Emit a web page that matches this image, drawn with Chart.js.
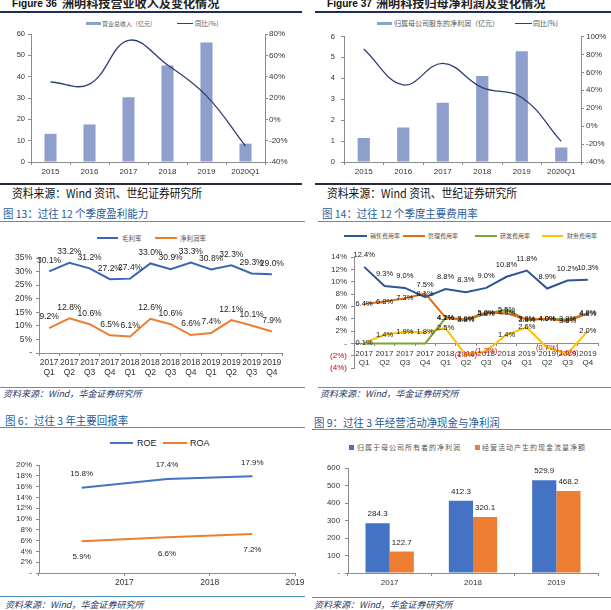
<!DOCTYPE html>
<html><head><meta charset="utf-8">
<script src="https://cdn.jsdelivr.net/npm/chart.js@4.4.1/dist/chart.umd.min.js"></script>
<style>
html,body{margin:0;padding:0;background:#fff;}
#page{position:relative;width:611px;height:610px;overflow:hidden;background:#fff;}
.t{position:absolute;white-space:nowrap;transform-origin:0 50%;line-height:1;}
.r{position:absolute;}
canvas{position:absolute;}
</style></head><body><div id="page"></div>
<script>
// ---------- DATA ----------
const yearsA = ['2015', '2016', '2017', '2018', '2019', '2020Q1'];
const revenue = [13.2, 17.6, 30.4, 45.2, 56.0, 8.6];
const revenueYoY = [35, 33, 74, 51, 22, -25];
const netProfit = [1.15, 1.65, 2.83, 4.11, 5.3, 0.69];
const netProfitYoY = [86, 46, 70, 43, 32, -17];

const quarters = [['2017','Q1'],['2017','Q2'],['2017','Q3'],['2017','Q4'],['2018','Q1'],['2018','Q2'],['2018','Q3'],['2018','Q4'],['2019','Q1'],['2019','Q2'],['2019','Q3'],['2019','Q4']];
const grossMargin = [30.1, 33.2, 31.2, 27.2, 27.4, 33.0, 30.9, 33.3, 30.8, 32.3, 29.3, 29.0];
const netMargin = [9.2, 12.8, 10.6, 6.5, 6.1, 12.6, 10.6, 6.6, 7.4, 12.1, 10.1, 7.9];

const sellingRate = [12.4, 9.3, 9.0, 7.5, 8.8, 8.3, 9.0, 10.8, 11.8, 8.9, 10.2, 10.3];
const adminRate = [6.4, 6.8, 7.3, 8.1, 4.2, 3.9, 5.0, 4.9, 3.9, 4.0, 3.6, 4.9];
const rdRate = [0, 0, 0, 0, 4.1, 3.8, 4.8, 5.5, 3.8, 4.0, 3.9, 4.8];
const finRate = [0.1, 1.4, 1.9, 1.8, 2.5, -1.9, -1.2, 1.4, 2.6, -0.7, -1.6, 2.0];

const years3 = ['2017', '2018', '2019'];
const roe = [15.8, 17.4, 17.9];
const roa = [5.9, 6.6, 7.2];
const parentNetProfit = [284.3, 412.3, 529.9];
const opCashFlow = [122.7, 320.1, 468.2];

// ---------- SETUP ----------
Chart.defaults.font.family = "'Liberation Sans', Arial, sans-serif";
Chart.defaults.font.size = 8;
Chart.defaults.color = '#333';
Chart.defaults.animation = false;
Chart.defaults.plugins.legend.display = false;
Chart.defaults.plugins.tooltip.enabled = false;

const page = document.getElementById('page');
function txt(s, x, yc, size, css) {
  const d = document.createElement('div');
  d.className = 't'; d.textContent = s;
  d.style.left = x + 'px'; d.style.top = (yc - size / 2) + 'px';
  d.style.fontSize = size + 'px';
  d.style.fontFamily = "'Noto Sans CJK SC','Liberation Sans',sans-serif";
  Object.assign(d.style, css || {});
  page.appendChild(d); return d;
}
function rect(x, y, w, h, c) {
  const d = document.createElement('div'); d.className = 'r';
  d.style.left = x + 'px'; d.style.top = y + 'px'; d.style.width = w + 'px'; d.style.height = h + 'px';
  d.style.background = c; page.appendChild(d); return d;
}
function canvasAt(l, t, w, h) {
  const c = document.createElement('canvas');
  c.width = w; c.height = h; c.style.left = l + 'px'; c.style.top = t + 'px';
  c.style.width = w + 'px'; c.style.height = h + 'px';
  page.appendChild(c); return c;
}
const labelPlugin = {
  id: 'vlabels',
  afterDatasetsDraw(chart) {
    const ctx = chart.ctx;
    chart.data.datasets.forEach((ds, i) => {
      if (!ds.vl) return;
      const meta = chart.getDatasetMeta(i);
      const o = ds.vl;
      meta.data.forEach((el, j) => {
        const v = ds.data[j];
        if (v == null || (o.skip && o.skip(v, j))) return;
        ctx.save();
        ctx.font = o.font || "8px 'Liberation Sans'";
        ctx.fillStyle = typeof o.color === 'function' ? o.color(v) : (o.color || '#222');
        ctx.textAlign = 'center'; ctx.textBaseline = 'middle';
        ctx.fillText(o.fmt ? o.fmt(v) : String(v), el.x + (o.dx || 0), el.y + (o.dy || 0));
        ctx.restore();
      });
    });
  }
};
const AX = '#8c8c8c';
function yAx(pos, min, max, step, width, fmt, fs, extraTicks) {
  return {
    type: 'linear', position: pos, min: min, max: max,
    ticks: Object.assign({ stepSize: step, callback: fmt, font: { size: fs }, color: '#333', padding: 3, autoSkip: false }, extraTicks || {}),
    grid: { drawOnChartArea: false, drawTicks: true, tickLength: 3, color: AX },
    border: { display: true, color: AX },
    afterFit: s => { s.width = width; }
  };
}
function xAx(fs, h, extraTicks) {
  return {
    type: 'category', offset: true,
    grid: { offset: true, drawOnChartArea: false, tickLength: 3, color: AX },
    border: { color: AX },
    ticks: Object.assign({ font: { size: fs, lineHeight: 1.15 }, color: '#333', padding: 2, maxRotation: 0, autoSkip: false }, extraTicks || {}),
    afterFit: s => { s.height = h; }
  };
}
const pct = v => v + '%';
const pct0 = v => v === 0 ? '-' : v + '%';
const pct1 = v => v.toFixed(1) + '%';

// ---------- STATIC TEXT / LINES ----------
const NAVY = '#1B2D5B';
// top headers
txt('Figure 36', 12, 3, 11, { fontFamily: "'Liberation Sans'", fontWeight: 'bold', transform: 'scaleX(0.92)', color: '#111' });
txt('洲明科技营业收入及变化情况', 62, 3, 11, { transform: 'scaleX(1.1)', color: '#222', fontWeight: 'bold' });
txt('Figure 37', 327, 3, 11, { fontFamily: "'Liberation Sans'", fontWeight: 'bold', transform: 'scaleX(0.92)', color: '#111' });
txt('洲明科技归母净利润及变化情况', 376, 3, 11, { transform: 'scaleX(1.1)', color: '#222', fontWeight: 'bold' });
rect(0, 11, 302, 2, NAVY);
rect(315, 11, 296, 2, NAVY);
rect(0, 183, 302, 1.5, '#2a2a3a');
rect(315, 183, 296, 1.5, '#2a2a3a');
txt('资料来源：Wind 资讯、世纪证券研究所', 12, 193, 12, { transform: 'scaleX(0.9)', color: '#111' });
txt('资料来源：Wind 资讯、世纪证券研究所', 327, 193, 12, { transform: 'scaleX(0.9)', color: '#111' });

// legends top
rect(86, 22, 15, 3, '#8E9FCB');
txt('营业总收入（亿元）', 102, 23.5, 6, { color: '#555' });
rect(177, 23, 16, 1.3, '#2E3F73');
txt('同比(%)', 195, 23.5, 6.5, { color: '#555' });
rect(377, 22, 15, 3, '#8E9FCB');
txt('归属母公司股东的净利润（亿元）', 394, 23.5, 7, { color: '#555' });
rect(515, 23, 17, 1.3, '#2E3F73');
txt('同比(%)', 533, 23.5, 7, { color: '#555' });

// middle headers
const TB = '#1F5C99', TL = '#4F94C4', SRC = '#1F3864';
txt('图 13：过往 12 个季度盈利能力', 3, 213, 11, { color: TB, transform: 'scaleX(0.95)' });
rect(0, 221, 305, 1, TL);
txt('图 14：过往 12 个季度主要费用率', 322, 213, 11, { color: TB, transform: 'scaleX(0.95)' });
rect(318, 221, 293, 1, TL);
rect(0, 387, 305, 1, TL);
rect(318, 387, 293, 1, TL);
txt('资料来源：Wind，华金证券研究所', 3, 393.5, 9, { color: SRC, fontStyle: 'italic' });
txt('资料来源：Wind，华金证券研究所', 320, 393.5, 9, { color: SRC, fontStyle: 'italic' });

// legend 13
rect(97, 237, 21, 2, '#3A66B5'); txt('毛利率', 122, 238, 6.5, { color: '#555' });
rect(155, 237, 22, 2, '#ED7D31'); txt('净利润率', 180, 238, 6.5, { color: '#555' });
// legend 14
rect(344, 235, 23, 2, '#2F5597'); txt('销售费用率', 370, 236, 6, { color: '#555' });
rect(403, 235, 22, 2, '#E46C0A'); txt('管理费用率', 428, 236, 6, { color: '#555' });
rect(475, 235, 22, 2, '#7FA33A'); txt('研发费用率', 500, 236, 6, { color: '#555' });
rect(542, 235, 21, 2, '#FFC000'); txt('财务费用率', 567, 236, 6, { color: '#555' });

// bottom headers
txt('图 6：过往 3 年主要回报率', 5, 420, 11, { color: TB, transform: 'scaleX(0.95)' });
rect(0, 427, 305, 1, TL);
txt('图 9：过往 3 年经营活动净现金与净利润', 314, 422, 11, { color: TB, transform: 'scaleX(0.95)' });
rect(312, 429, 299, 1, TL);
rect(0, 596, 305, 1, TL);
rect(312, 597, 299, 1, TL);
txt('资料来源：Wind，华金证券研究所', 5, 604, 9, { color: SRC, fontStyle: 'italic' });
txt('资料来源：Wind，华金证券研究所', 314, 604, 9, { color: SRC, fontStyle: 'italic' });

// legend 6
rect(110, 442, 23, 2, '#4472C4'); txt('ROE', 137, 443, 9, { fontFamily: "'Liberation Sans'", color: '#222' });
rect(163, 442, 24, 2, '#ED7D31'); txt('ROA', 190, 443, 9, { fontFamily: "'Liberation Sans'", color: '#222' });
// legend 9
rect(349, 445, 5, 5, '#4472C4'); txt('归属于母公司所有者的净利润', 357, 447.5, 7, { color: '#555', letterSpacing: '1px' });
rect(475, 445, 5, 5, '#ED7D31'); txt('经营活动产生的现金流量净额', 482, 447.5, 7, { color: '#555', letterSpacing: '1px' });

// ---------- CHART A: Figure 36 ----------
new Chart(canvasAt(0, 26, 300, 154), {
  data: { labels: yearsA, datasets: [
    { type: 'line', data: revenueYoY, yAxisID: 'y1', borderColor: '#2E3F73', borderWidth: 1.3, pointRadius: 0, tension: 0.4, order: 0 },
    { type: 'bar', data: revenue, yAxisID: 'y', backgroundColor: '#8E9FCB', barPercentage: 0.31, categoryPercentage: 1, order: 1 }
  ]},
  options: { responsive: false, layout: { padding: { top: 8, left: 0, right: 0, bottom: 0 } },
    scales: { x: xAx(8, 18), y: yAx('left', 0, 60, 10, 31, v => v, 7.5), y1: yAx('right', -40, 80, 20, 35, pct, 8, { padding: 1 }) } }
});
// ---------- CHART B: Figure 37 ----------
new Chart(canvasAt(305, 26, 306, 154), {
  data: { labels: yearsA, datasets: [
    { type: 'line', data: netProfitYoY, yAxisID: 'y1', borderColor: '#2E3F73', borderWidth: 1.3, pointRadius: 0, tension: 0.4, order: 0 },
    { type: 'bar', data: netProfit, yAxisID: 'y', backgroundColor: '#8E9FCB', barPercentage: 0.31, categoryPercentage: 1, order: 1 }
  ]},
  options: { responsive: false, layout: { padding: { top: 8, left: 0, right: 0, bottom: 0 } },
    scales: { x: xAx(8, 18), y: yAx('left', 0, 6, 1, 39, v => v, 7.5, { padding: 6 }), y1: yAx('right', -40, 100, 20, 30, pct, 8, { padding: 2 }) } }
});
// ---------- CHART 13 ----------
new Chart(canvasAt(0, 245, 305, 135), {
  type: 'line',
  data: { labels: quarters, datasets: [
    { data: grossMargin, borderColor: '#3A66B5', borderWidth: 2, pointRadius: 0, tension: 0,
      vl: { dy: -11, fmt: pct1, font: "8.5px 'Liberation Sans'", color: '#222' } },
    { data: netMargin, borderColor: '#ED7D31', borderWidth: 2, pointRadius: 0, tension: 0,
      vl: { dy: -11, fmt: pct1, font: "8.5px 'Liberation Sans'", color: '#222' } }
  ]},
  options: { responsive: false, layout: { padding: { top: 13, left: 0, right: 23, bottom: 0 } },
    scales: { x: xAx(8.5, 27), y: yAx('left', 0, 35, 5, 39, pct0, 8.5, { padding: 4 }) } },
  plugins: [labelPlugin]
});
// ---------- CHART 14 ----------
const negFmt = v => v < 0 ? '(' + Math.abs(v).toFixed(1) + '%)' : v.toFixed(1) + '%';
const negCol = v => v < 0 ? '#D00000' : '#111';
const x14 = xAx(8, 20, { padding: 4 });
x14.position = { y: 0 };
delete x14.afterFit;
x14.grid.tickLength = 2;
new Chart(canvasAt(305, 247, 306, 130), {
  type: 'line',
  data: { labels: quarters, datasets: [
    { data: sellingRate, borderColor: '#2F5597', borderWidth: 2, pointRadius: 0, tension: 0,
      vl: { dy: -12, fmt: negFmt, color: negCol, font: "7.5px 'Liberation Sans'" } },
    { data: adminRate, borderColor: '#E46C0A', borderWidth: 2, pointRadius: 0, tension: 0,
      vl: { dy: 0, fmt: negFmt, color: negCol, font: "7.5px 'Liberation Sans'" } },
    { data: rdRate, borderColor: '#7FA33A', borderWidth: 2, pointRadius: 0, tension: 0,
      vl: { dy: 0, fmt: negFmt, color: negCol, font: "7.5px 'Liberation Sans'", skip: v => v === 0 } },
    { data: finRate, borderColor: '#FFC000', borderWidth: 2, pointRadius: 0, tension: 0,
      vl: { dy: 0, fmt: negFmt, color: negCol, font: "7.5px 'Liberation Sans'" } }
  ]},
  options: { responsive: false, layout: { padding: { top: 10, left: 0, right: 13, bottom: 5 } },
    scales: { x: x14,
      y: yAx('left', -4, 14, 2, 49, v => v < 0 ? '(' + (-v) + '%)' : (v === 0 ? '-' : v + '%'), 8,
        { padding: 4, color: c => (c.tick && c.tick.value < 0) ? '#D00000' : '#333' }) } },
  plugins: [labelPlugin]
});
// ---------- CHART 6 ----------
new Chart(canvasAt(0, 455, 310, 136), {
  type: 'line',
  data: { labels: years3, datasets: [
    { data: roe, borderColor: '#4472C4', borderWidth: 2, pointRadius: 0, tension: 0,
      vl: { dy: -14, fmt: pct1, font: "8px 'Liberation Sans'", color: '#222' } },
    { data: roa, borderColor: '#ED7D31', borderWidth: 2, pointRadius: 0, tension: 0,
      vl: { dy: 16, fmt: pct1, font: "8px 'Liberation Sans'", color: '#222' } }
  ]},
  options: { responsive: false, layout: { padding: { top: 10, left: 0, right: 15, bottom: 0 } },
    scales: { x: xAx(8.5, 18, { labelOffset: 42.7 }), y: yAx('left', 0, 20, 2, 39, pct0, 8, { padding: 4 }) } },
  plugins: [labelPlugin]
});
// ---------- CHART 9 ----------
new Chart(canvasAt(305, 458, 306, 133), {
  type: 'bar',
  data: { labels: years3, datasets: [
    { data: parentNetProfit, backgroundColor: '#4472C4', barPercentage: 1, categoryPercentage: 0.58,
      vl: { dy: -9, fmt: v => v.toFixed(1), font: "8px 'Liberation Sans'", color: '#222' } },
    { data: opCashFlow, backgroundColor: '#ED7D31', barPercentage: 1, categoryPercentage: 0.58,
      vl: { dy: -9, fmt: v => v.toFixed(1), font: "8px 'Liberation Sans'", color: '#222' } }
  ]},
  options: { responsive: false, layout: { padding: { top: 10, left: 0, right: 13, bottom: 0 } },
    scales: { x: xAx(8, 18), y: yAx('left', 0, 600, 100, 43, v => v === 0 ? '-' : v, 7.8, { padding: 5 }) } },
  plugins: [labelPlugin]
});
</script></body></html>
